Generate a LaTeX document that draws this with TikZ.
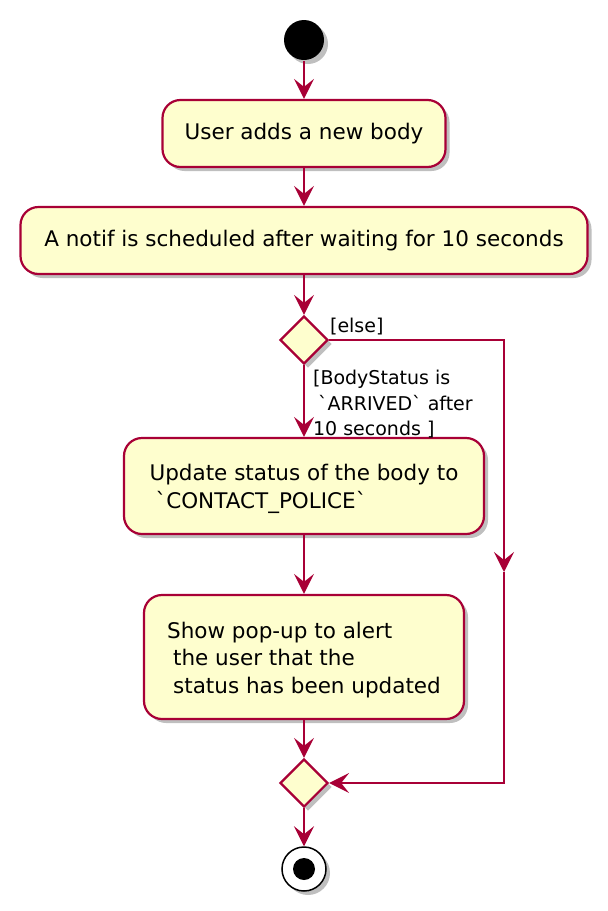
\documentclass[tikz,border=0pt]{standalone}
\usepackage{fontspec}
\newfontfamily\umlfont{DejaVu Sans}
\usetikzlibrary{shapes.geometric,shadows,arrows.meta}

\definecolor{umlborder}{HTML}{A80036}
\definecolor{umlfill}{HTML}{FEFECE}

\tikzset{every picture/.style={line width=2.2pt}}
\tikzset{
  umlshadow/.style={drop shadow={shadow xshift=4pt,shadow yshift=-4pt,fill=black,opacity=0.25}},
  act/.style={draw=umlborder,fill=umlfill,line width=2.2pt,rounded corners=18pt,umlshadow,font=\umlfont\fontsize{21.5}{27.5}\selectfont,inner sep=0pt},
  choice/.style={diamond,draw=umlborder,fill=umlfill,line width=2.2pt,umlshadow,inner sep=0pt,minimum width=48pt,minimum height=48pt,aspect=1},
  startdot/.style={circle,fill=black,umlshadow,minimum size=40pt,inner sep=0pt},
  stopring/.style={circle,draw=black,fill=white,line width=1.5pt,umlshadow,minimum size=44pt,inner sep=0pt},
  flow/.style={draw=umlborder,line width=2.2pt,-{Stealth[length=20pt,width=20pt,inset=8pt]}},
  guard/.style={font=\umlfont\fontsize{19}{25.5}\selectfont,inner sep=0pt,align=left}
}

\begin{document}
\begin{tikzpicture}[x=1pt,y=1pt,yscale=-1,xscale=1]
\useasboundingbox (0,0) rectangle (608,911);

%Start
\node[startdot] (start) at (304,40) {};
%Actions
\node[act,minimum width=283pt,minimum height=67pt] (adds) at (304,133.5) {User adds a new body};
\node[act,minimum width=567pt,minimum height=67pt] (notif) at (304,240.5) {A notif is scheduled after waiting for 10 seconds};
%Branch
\node[choice] (split) at (304,340) {};
\node[act,minimum width=360pt,minimum height=96pt,align=left] (update) at (304,486) {\rule{0pt}{22pt}Update status of the body to\\\hspace*{6pt}\symbol{96}CONTACT\_POLICE\symbol{96}};
\node[act,minimum width=320pt,minimum height=124pt,align=left] (popup) at (304,657) {\rule{0pt}{22pt}Show pop-up to alert\\\hspace*{6pt}the user that the\\\hspace*{6pt}status has been updated};
\node[choice] (merge) at (304,783) {};
%Stop
\node[stopring] (stop) at (304,869) {};
\fill (stop.center) circle (11);

%Else path
\coordinate (elsebend) at (504,340);
\coordinate (elsemid) at (504,572);
\coordinate (elsefoot) at (504,783);

%Flows
\draw[flow] (start) -- (adds);
\draw[flow] (adds) -- (notif);
\draw[flow] (notif) -- (split);
\draw[flow] (split) -- (update);
\draw[flow] (update) -- (popup);
\draw[flow] (popup) -- (merge);
\draw[flow] (merge) -- (stop);
\draw[flow] (split.east) -- (elsebend) -- (elsemid);
\draw[flow] (elsemid) -- (elsefoot) -- (merge.east);

% Text Node
\node[guard,anchor=south west] (elselbl) at (329,336) {[else]};
% Text Node
\node[guard,anchor=north west] (arrivedlbl) at (312,369) {[BodyStatus is\\\hspace*{5pt}\symbol{96}ARRIVED\symbol{96} after\\10 seconds ]};

\end{tikzpicture}
\end{document}
